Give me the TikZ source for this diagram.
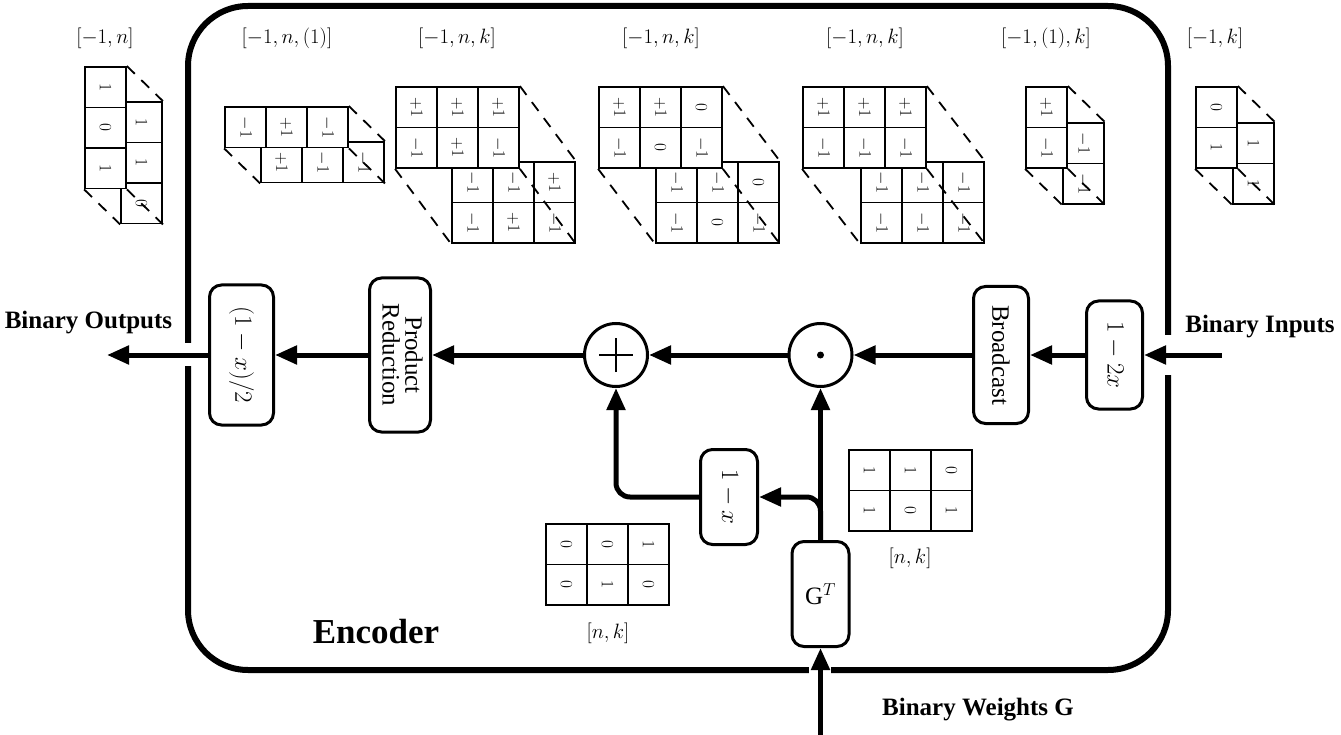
\documentclass[tikz,border=0pt]{standalone}
\usepackage{fontspec}
\setmainfont{Liberation Serif}
\usepackage{graphicx}
\usetikzlibrary{arrows.meta}

\newcommand\cellgrid[5]{%
  \foreach \v [count=\i from 0] in {#4} {
    \pgfmathtruncatemacro\cc{mod(\i,#3)}
    \pgfmathtruncatemacro\rr{div(\i,#3)}
    \node[cell] (#5-\i) at ({#1+(\cc+0.5)*41},{#2+(\rr+0.5)*40.5}) {\rotatebox{-90}{$\v$}};
  }}
% #1 x0, #2 y0, #3 cols, #4 rows, #5 dx, #6 dy, #7 front, #8 back, #9 name
\newcommand\tensor[9]{%
  \cellgrid{#1+#5}{#2+#6}{#3}{#8}{#9b}
  \cellgrid{#1}{#2}{#3}{#7}{#9f}
  \pgfmathtruncatemacro\ka{#3-1}
  \pgfmathtruncatemacro\kb{(#4-1)*#3}
  \pgfmathtruncatemacro\kc{#4*#3-1}
  \draw[dashln] (#9f-\ka.north east) -- (#9b-\ka.north east);
  \draw[dashln] (#9f-\kb.south west) -- (#9b-\kb.south west);
  \draw[dashln] (#9f-\kc.south east) -- (#9b-\kc.south east);
}

\begin{document}
\begin{tikzpicture}[x=1pt,y=-1pt,
  box/.style={draw, line width=3pt, rounded corners=12pt, inner sep=0pt, fill=white,
    font=\fontsize{25}{18}\selectfont, align=center},
  op/.style={draw, circle, line width=3pt, minimum size=63pt, inner sep=0pt, fill=white},
  flow/.style={line width=5pt, -{Triangle[length=22pt,width=18pt]}},
  cell/.style={draw, fill=white, line width=1.8pt, minimum width=41pt, minimum height=40.5pt,
    inner sep=0pt, font=\fontsize{16.5}{16}\selectfont},
  dashln/.style={line width=1.8pt, dash pattern=on 11pt off 9pt},
  dim/.style={font=\fontsize{20.5}{24}\selectfont},
  io/.style={font=\bfseries\fontsize{25}{30}\selectfont},
]
\useasboundingbox (0,0) rectangle (1341,735);

% encoder frame
\node[draw, line width=6pt, rounded corners=60pt, minimum width=980pt, minimum height=664pt,
  inner sep=0pt] (enc) at (678,338) {};
\fill[white] (180,343) rectangle (196,366);
\fill[white] (1160,335) rectangle (1176,375);
\fill[white] (809,662) rectangle (831,678);

% tensors
\tensor{85}{67}{1}{3}{36}{35}{1,0,1}{1,1,0}{ta}
\tensor{225}{107}{3}{1}{36}{35}{-1,+1,-1}{+1,-1,-1}{tb}
\tensor{396}{87}{3}{2}{56}{75}{+1,+1,+1,-1,+1,-1}{-1,-1,+1,-1,+1,-1}{tc}
\tensor{599}{87}{3}{2}{57}{75}{+1,+1,0,-1,0,-1}{-1,-1,0,-1,0,-1}{td}
\tensor{803}{87}{3}{2}{58}{75}{+1,+1,+1,-1,-1,-1}{-1,-1,-1,-1,-1,-1}{te}
\tensor{1026}{87}{1}{2}{37}{36}{+1,-1}{-1,-1}{tf}
\tensor{1196}{87}{1}{2}{37}{36}{0,1}{1,1}{tg}

\node[dim] (la) at (105,38) {$[-1,n]$};
\node[dim] (lb) at (287,38) {$[-1,n,(1)]$};
\node[dim] (lc) at (457,38) {$[-1,n,k]$};
\node[dim] (ld) at (661,38) {$[-1,n,k]$};
\node[dim] (le) at (865,38) {$[-1,n,k]$};
\node[dim] (lf) at (1046,38) {$[-1,(1),k]$};
\node[dim] (lg) at (1215,38) {$[-1,k]$};

% weight matrices
\cellgrid{546}{524}{3}{0,0,1,0,1,0}{ma}
\cellgrid{849}{450}{3}{1,1,0,1,0,1}{mb}
\node[dim] (lma) at (608,633) {$[n,k]$};
\node[dim] (lmb) at (910,558) {$[n,k]$};

% pipeline nodes
\node[box, minimum width=64pt, minimum height=140pt] (half) at (241.5,355) {\rotatebox{-90}{$(1-x)/2$}};
\node[box, minimum width=61pt, minimum height=154pt] (prod) at (400,355)
  {\rotatebox{-90}{\begin{tabular}{@{}c@{}}Product\\Reduction\end{tabular}}};
\node[op] (plus) at (616,355) {};
\draw[line width=1.5pt] ([xshift=-17pt]plus.center) -- ([xshift=17pt]plus.center);
\draw[line width=1.5pt] ([yshift=-17pt]plus.center) -- ([yshift=17pt]plus.center);
\node[op] (dot) at (820.5,355) {};
\fill (dot.center) circle (3.5pt);
\node[box, minimum width=55pt, minimum height=137pt] (bcast) at (1001,355) {\rotatebox{-90}{Broadcast}};
\node[box, minimum width=56pt, minimum height=108pt] (inv) at (1114.5,355) {\rotatebox{-90}{$1-2x$}};
\node[box, minimum width=57pt, minimum height=95pt] (onem) at (729,497) {\rotatebox{-90}{$1-x$}};
\node[box, minimum width=57pt, minimum height=105pt] (gt) at (820.5,594) {$\mathrm{G}^T$};

\coordinate (outend) at (107,355);
\coordinate (instart) at (1222,355);
\coordinate (gstart) at (820.5,735);

\draw[flow] (instart) -- (inv.east);
\draw[flow] (inv.west) -- (bcast.east);
\draw[flow] (bcast.west) -- (dot.east);
\draw[flow] (dot.west) -- (plus.east);
\draw[flow] (plus.west) -- (prod.east);
\draw[flow] (prod.west) -- (half.east);
\draw[flow] (half.west) -- (outend);
\draw[flow] (gstart) -- (gt.south);
\draw[flow] (gt.north) -- (dot.south);
\draw[flow, rounded corners=14pt] (gt.north) |- (onem.east);
\draw[flow, rounded corners=14pt] (onem.west) -| (plus.south);

% labels
\node[io] (outl) at (88.5,323) {Binary Outputs};
\node[io] (inl) at (1260,327) {Binary Inputs};
\node[io] (wl) at (978,710) {Binary Weights G};
\node[font=\bfseries\fontsize{35}{40}\selectfont] (encl) at (376,632) {Encoder};
\end{tikzpicture}
\end{document}
